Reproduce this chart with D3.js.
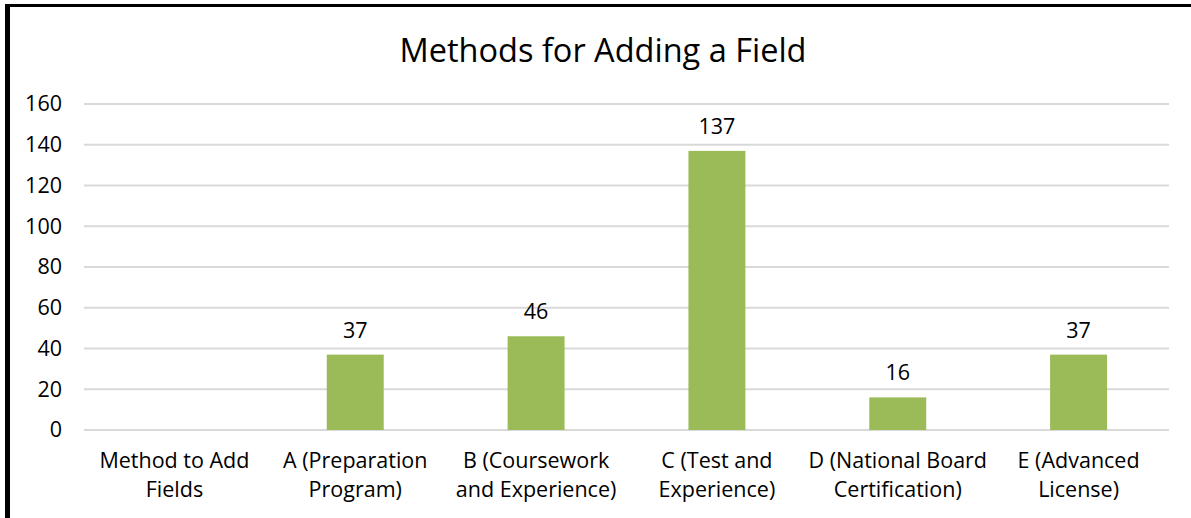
<!DOCTYPE html>
<html>
<head>
<meta charset="utf-8">
<script src="https://cdn.jsdelivr.net/npm/d3@7"></script>
<style>
  body { margin: 0; background: #fff; }
  svg { display: block; font-family: "Open Sans", sans-serif; }
</style>
</head>
<body>
<svg id="chart" width="1191" height="518"></svg>
<script>
// Chart data
const categories = [
    ["Method to Add", "Fields"],
    ["A (Preparation", "Program)"],
    ["B (Coursework", "and Experience)"],
    ["C (Test and", "Experience)"],
    ["D (National Board", "Certification)"],
    ["E (Advanced", "License)"]
];
const values = [null, 37, 46, 137, 16, 37];
const yTicks = [0, 20, 40, 60, 80, 100, 120, 140, 160];
const title = "Methods for Adding a Field";

const margin = { top: 104, right: 22, bottom: 88, left: 84 };
const width = 1191 - margin.left - margin.right;
const height = 518 - margin.top - margin.bottom;

const svg = d3.select("#chart");

// Frame (only top and left edges are visible in the picture)
svg.append("rect").attr("x", 5).attr("y", 4).attr("width", 1186).attr("height", 3).attr("fill", "#000");
svg.append("rect").attr("x", 5).attr("y", 4).attr("width", 5).attr("height", 514).attr("fill", "#000");

svg.append("text")
    .attr("x", 603)
    .attr("y", 62)
    .attr("text-anchor", "middle")
    .style("font-size", "32.5px")
    .attr("fill", "#000")
    .text(title);

const g = svg.append("g").attr("transform", `translate(${margin.left}, ${margin.top})`);

const xScale = d3.scaleBand()
    .domain(d3.range(categories.length))
    .range([0, width])
    .paddingInner(0.685)
    .paddingOuter(0.3425);

const yScale = d3.scaleLinear()
    .domain([0, 160])
    .range([height, 0]);

// Gridlines
g.selectAll(".grid")
    .data(yTicks)
    .enter()
    .append("line")
    .attr("class", "grid")
    .attr("x1", 0)
    .attr("x2", width)
    .attr("y1", d => yScale(d))
    .attr("y2", d => yScale(d))
    .attr("stroke", "#d9d9d9")
    .attr("stroke-width", 2);

// Y axis
const yAxis = d3.axisLeft(yScale).tickValues(yTicks).tickSize(0).tickPadding(22);
g.append("g")
    .attr("class", "y-axis")
    .call(yAxis)
    .call(a => a.select(".domain").remove())
    .selectAll("text")
    .style("font-size", "21.5px")
    .style("font-family", "'Open Sans', sans-serif")
    .attr("fill", "#000");

// Bars
const barData = values.map((v, i) => ({ v, i })).filter(d => d.v !== null);

g.selectAll(".bar")
    .data(barData)
    .enter()
    .append("rect")
    .attr("class", "bar")
    .attr("x", d => xScale(d.i))
    .attr("y", d => yScale(d.v))
    .attr("width", xScale.bandwidth())
    .attr("height", d => height - yScale(d.v))
    .attr("fill", "#9bbb59");

// Data labels
g.selectAll(".label")
    .data(barData)
    .enter()
    .append("text")
    .attr("class", "label")
    .attr("x", d => xScale(d.i) + xScale.bandwidth() / 2)
    .attr("y", d => yScale(d.v) - 17)
    .attr("text-anchor", "middle")
    .style("font-size", "21.5px")
    .attr("fill", "#000")
    .text(d => d.v);

// Category labels (two lines each)
const catLabels = g.selectAll(".cat")
    .data(categories)
    .enter()
    .append("text")
    .attr("class", "cat")
    .attr("text-anchor", "middle")
    .style("font-size", "21.5px")
    .attr("fill", "#000")
    .attr("transform", (d, i) => `translate(${xScale(i) + xScale.bandwidth() / 2}, ${height + 38})`);

catLabels.selectAll("tspan")
    .data(d => d)
    .enter()
    .append("tspan")
    .attr("x", 0)
    .attr("dy", (d, j) => j === 0 ? 0 : 29)
    .text(d => d);
</script>
</body>
</html>
